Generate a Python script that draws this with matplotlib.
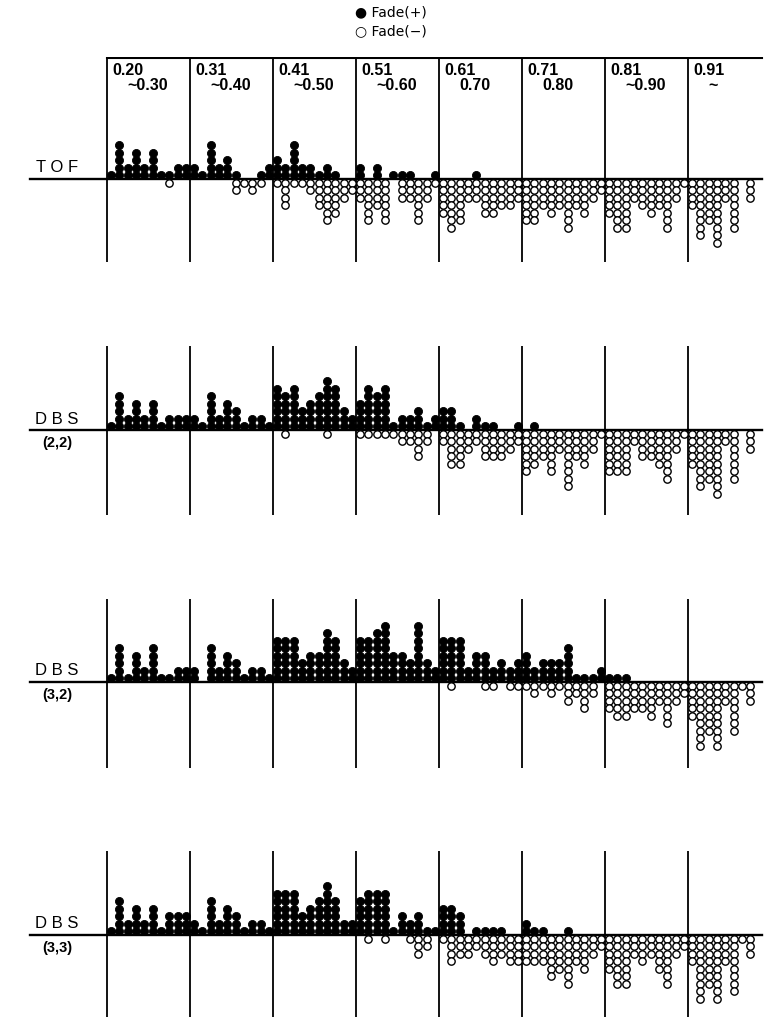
import matplotlib
matplotlib.use("Agg")
import matplotlib.pyplot as plt

plt.rcParams['font.family'] = ['Liberation Sans', 'DejaVu Sans']

# ---------------- data ----------------
header_top = ["0.20", "0.31", "0.41", "0.51", "0.61", "0.71", "0.81", "0.91"]
header_bottom = ["~0.30", "~0.40", "~0.50", "~0.60", "0.70", "0.80", "~0.90", "~"]

tof_pos = [[1,5,2,4,2,4,1,1,2,2],[2,1,5,2,3,1,0,0,1,2],[3,2,5,2,2,1,2,1,0,0],
           [2,0,2,0,1,1,1,0,0,1],[0,0,0,0,1,0,0,0,0,0],[0]*10,[0]*10,[0]*8]
tof_neg = [[0,0,0,0,0,0,0,1,0,0],[0,0,0,0,0,2,1,2,1,0],[1,4,1,1,2,4,6,5,3,2],
           [3,6,4,6,0,3,3,6,3,1],[5,7,6,3,3,5,5,4,4,3],[6,6,4,5,4,7,4,5,3,2],
           [5,7,7,3,4,5,4,7,3,1],[4,8,6,9,3,7,0,3]]

dbs22_pos = [[1,5,2,4,2,4,1,2,2,2],[2,1,5,2,4,3,1,2,2,1],[6,5,6,3,4,5,7,6,3,2],
             [4,6,5,6,1,2,2,3,1,2],[3,3,1,0,2,1,1,0,0,1],[0,1,0,0,0,0,0,0,0,0],
             [0]*10,[0]*8]
dbs22_neg = [[0]*10,[0]*10,[0,1,0,0,0,0,1,0,0,0],[1,1,1,1,1,2,2,4,2,0],
             [2,5,5,3,2,4,4,4,3,2],[6,5,4,6,3,8,4,5,3,1],[6,6,6,2,4,4,5,7,3,1],
             [5,8,7,9,2,7,0,3]]

dbs32_pos = [[1,5,1,4,2,5,1,1,2,2],[2,0,5,2,4,3,1,2,2,1],[6,6,6,3,4,4,7,6,3,2],
             [6,6,7,8,4,4,3,8,3,2],[6,6,6,2,4,4,2,3,2,3],[4,2,3,3,3,5,1,1,1,2],
             [1,1,1,0,0,0,0,0,0,0],[0]*8]
dbs32_neg = [[0]*10,[0]*10,[0]*10,[0]*10,[0,1,0,0,0,1,1,0,1,1],
             [1,2,1,2,1,3,2,4,2,0],[4,5,5,4,4,5,3,6,3,2],[5,9,7,9,3,7,1,3]]

dbs33_pos = [[1,5,2,4,2,4,1,3,3,3],[2,1,5,2,4,3,1,2,2,1],[6,6,6,3,4,5,7,5,2,2],
             [5,6,6,6,1,3,2,3,1,1],[4,4,3,0,1,1,1,1,0,0],[2,1,1,0,0,1,0,0,0,0],
             [0]*10,[0]*8]
dbs33_neg = [[0]*10,[0]*10,[0]*10,[0,1,0,1,0,0,1,3,2,0],[1,4,3,3,2,3,4,3,4,4],
             [4,4,4,6,5,7,4,5,3,2],[5,7,7,3,4,3,5,7,3,2],[4,9,7,9,4,8,1,3]]

panel_labels = [("T O F", None), ("D B S", "(2,2)"), ("D B S", "(3,2)"), ("D B S", "(3,3)")]
panel_pos = [tof_pos, dbs22_pos, dbs32_pos, dbs33_pos]
panel_neg = [tof_neg, dbs22_neg, dbs32_neg, dbs33_neg]

# ---------------- layout (pixels) ----------------
W, H = 764, 1020
x0_px, unit_x = 107, 83.0     # interval width in px
unit_y = 7.5                  # dot pitch in px
panel_geom = [(58, 180, 263), (347, 431, 516), (600, 683, 769), (852, 936, 1018)]

fig = plt.figure(figsize=(W/100, H/100), dpi=100)
fig.patch.set_facecolor('white')

xl = (-x0_px/unit_x, (W - x0_px)/unit_x)
line_left = (30 - x0_px)/unit_x
line_right = (762 - x0_px)/unit_x

for p, (top, base, bot) in enumerate(panel_geom):
    ax = fig.add_axes([0, 1 - bot/H, 1, (bot - top)/H])
    ax.set_xlim(*xl)
    ax.set_ylim(-(bot - base)/unit_y, (base - top)/unit_y)
    ax.axis('off')
    ytop, ybot = ax.get_ylim()[1], ax.get_ylim()[0]
    # separators
    for i in range(8):
        ax.plot([i, i], [ybot, ytop], color='black', lw=1.3, zorder=1)
    ax.plot([line_left, line_right], [0, 0], color='black', lw=1.7, zorder=1)
    if p == 0:
        ax.plot([0, line_right], [ytop - 0.1, ytop - 0.1], color='black', lw=1.5)
    # dots
    fx, fy, ox, oy = [], [], [], []
    for i in range(8):
        pos, neg = panel_pos[p][i], panel_neg[p][i]
        for j in range(len(pos)):
            x = i + (j + 0.5)/10
            for k in range(pos[j]):
                fx.append(x); fy.append(0.5 + k)
            for k in range(neg[j]):
                ox.append(x); oy.append(-0.5 - k)
    ax.scatter(fx, fy, s=34, c='black', edgecolors='black', linewidths=0.6, zorder=3)
    ax.scatter(ox, oy, s=28, facecolors='white', edgecolors='black', linewidths=1.0, zorder=3)
    # labels
    lab_top, lab_bot = panel_labels[p]
    ax.text((57 - x0_px)/unit_x, 1.6, lab_top, ha='center', va='center', fontsize=12)
    if lab_bot:
        ax.text((57 - x0_px)/unit_x, -1.6, lab_bot, ha='center', va='center',
                fontsize=10.5, fontweight='bold')
    if p == 0:
        for i in range(8):
            ax.text(i + 0.07, (base - 71)/unit_y, header_top[i], ha='left', va='center',
                    fontsize=11.5, fontweight='bold')
            ax.text(i + 0.25, (base - 86)/unit_y, header_bottom[i], ha='left', va='center',
                    fontsize=11.5, fontweight='bold')

# legend
fig.text(355/W, 1 - 12/H, "\u25cf Fade(+)", fontsize=10, va='center', ha='left',
         family=['DejaVu Sans'])
fig.text(355/W, 1 - 31/H, "\u25cb Fade(\u2212)", fontsize=10, va='center', ha='left',
         family=['DejaVu Sans'])

fig.savefig("out.png", dpi=100, facecolor='white')
